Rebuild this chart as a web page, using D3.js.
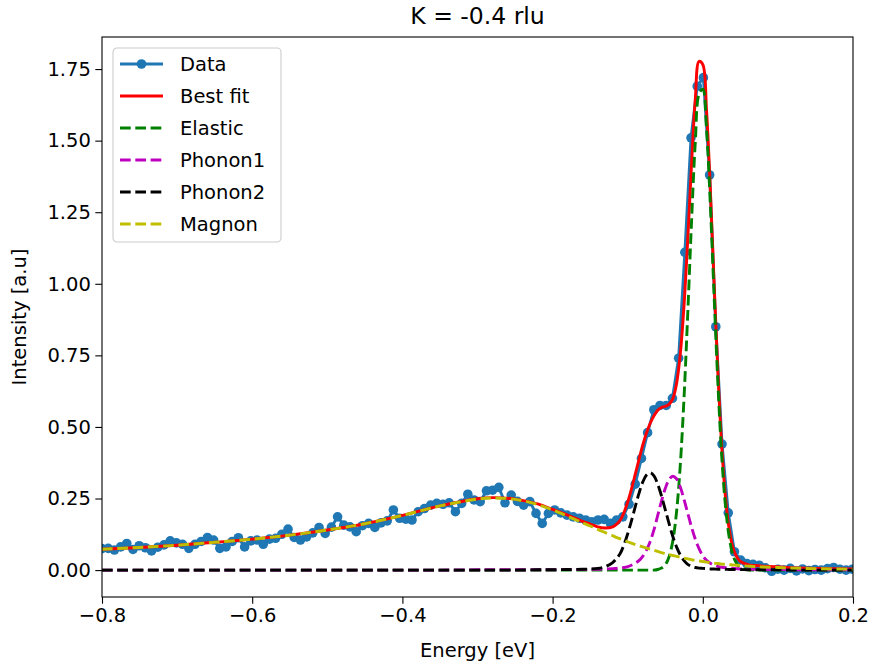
<!DOCTYPE html>
<html>
<head>
<meta charset="utf-8">
<script src="https://cdn.jsdelivr.net/npm/d3@7"></script>
<style>
  html, body { margin: 0; padding: 0; background: #fff; }
  svg text { font-family: "DejaVu Sans", sans-serif; fill: #000; }
</style>
</head>
<body>
<svg id="chart" width="870" height="666"></svg>
<script>
// Measured spectrum, K = -0.4 rlu
const energy = [
  -0.8000, -0.7917, -0.7835, -0.7752, -0.7670, -0.7587, -0.7505, -0.7422, -0.7340, -0.7257,
  -0.7174, -0.7092, -0.7009, -0.6927, -0.6844, -0.6762, -0.6679, -0.6596, -0.6514, -0.6431,
  -0.6349, -0.6266, -0.6184, -0.6101, -0.6019, -0.5936, -0.5853, -0.5771, -0.5688, -0.5606,
  -0.5523, -0.5441, -0.5358, -0.5276, -0.5193, -0.5110, -0.5028, -0.4945, -0.4863, -0.4780,
  -0.4698, -0.4615, -0.4532, -0.4450, -0.4367, -0.4285, -0.4202, -0.4120, -0.4037, -0.3955,
  -0.3872, -0.3789, -0.3707, -0.3624, -0.3542, -0.3459, -0.3377, -0.3294, -0.3211, -0.3129,
  -0.3046, -0.2964, -0.2881, -0.2799, -0.2716, -0.2634, -0.2551, -0.2468, -0.2386, -0.2303,
  -0.2221, -0.2138, -0.2056, -0.1973, -0.1891, -0.1808, -0.1725, -0.1643, -0.1560, -0.1478,
  -0.1395, -0.1313, -0.1230, -0.1147, -0.1065, -0.0982, -0.0900, -0.0817, -0.0735, -0.0652,
  -0.0570, -0.0487, -0.0404, -0.0322, -0.0239, -0.0157, -0.0074, 0.0008, 0.0091, 0.0173,
  0.0256, 0.0339, 0.0421, 0.0504, 0.0586, 0.0669, 0.0751, 0.0834, 0.0917, 0.0999,
  0.1082, 0.1164, 0.1247, 0.1329, 0.1412, 0.1494, 0.1577, 0.1660, 0.1742, 0.1825,
  0.1907, 0.1990
];
const intensity = [
  0.075, 0.076, 0.070, 0.081, 0.093, 0.072, 0.085, 0.078, 0.067, 0.080,
  0.088, 0.102, 0.095, 0.090, 0.076, 0.090, 0.100, 0.114, 0.105, 0.076,
  0.081, 0.100, 0.113, 0.081, 0.102, 0.105, 0.090, 0.108, 0.111, 0.125,
  0.143, 0.114, 0.105, 0.116, 0.130, 0.149, 0.128, 0.150, 0.186, 0.157,
  0.151, 0.134, 0.155, 0.163, 0.149, 0.165, 0.172, 0.210, 0.181, 0.178,
  0.175, 0.204, 0.215, 0.227, 0.233, 0.230, 0.235, 0.204, 0.233, 0.265,
  0.245, 0.239, 0.277, 0.279, 0.289, 0.235, 0.262, 0.240, 0.227, 0.239,
  0.198, 0.163, 0.198, 0.210, 0.200, 0.192, 0.186, 0.181, 0.175, 0.169,
  0.175, 0.177, 0.163, 0.175, 0.186, 0.230, 0.300, 0.390, 0.480, 0.560,
  0.575, 0.575, 0.600, 0.740, 1.110, 1.510, 1.690, 1.720, 1.380, 0.850,
  0.440, 0.200, 0.064, 0.035, 0.023, 0.020, 0.017, 0.008, -0.004, 0.003,
  0.000, 0.006, -0.003, 0.004, -0.002, 0.002, 0.000, 0.005, 0.009, 0.003,
  0.000, 0.003
];

// Fit model evaluated on an energy grid (denser around the quasi-elastic region)
const fitEnergy = [
  -0.80, -0.75, -0.70, -0.65, -0.60, -0.55, -0.50, -0.45, -0.40, -0.35,
  -0.30, -0.28, -0.25, -0.22, -0.20, -0.18, -0.16, -0.15, -0.14, -0.13,
  -0.12, -0.115, -0.11, -0.105, -0.10, -0.095, -0.09, -0.085, -0.08, -0.075,
  -0.07, -0.065, -0.06, -0.055, -0.05, -0.045, -0.04, -0.035, -0.03, -0.025,
  -0.02, -0.015, -0.01, -0.005, 0.0, 0.005, 0.01, 0.015, 0.02, 0.025,
  0.03, 0.035, 0.04, 0.045, 0.05, 0.06, 0.07, 0.08, 0.10, 0.12,
  0.15, 0.20
];
const magnon = [
  0.073, 0.079, 0.087, 0.097, 0.108, 0.122, 0.140, 0.162, 0.191, 0.224,
  0.248, 0.252, 0.247, 0.229, 0.210, 0.188, 0.165, 0.154, 0.142, 0.131,
  0.120, 0.114, 0.109, 0.104, 0.099, 0.094, 0.089, 0.085, 0.081, 0.077,
  0.073, 0.069, 0.065, 0.061, 0.058, 0.054, 0.051, 0.048, 0.045, 0.042,
  0.039, 0.036, 0.034, 0.032, 0.030, 0.028, 0.026, 0.024, 0.023, 0.021,
  0.020, 0.019, 0.018, 0.017, 0.016, 0.014, 0.012, 0.011, 0.009, 0.007,
  0.005, 0.003
];
const phonon2 = [
  0.000, 0.000, 0.000, 0.000, 0.000, 0.000, 0.000, 0.000, 0.000, 0.000,
  0.000, 0.000, 0.000, 0.001, 0.001, 0.002, 0.003, 0.004, 0.006, 0.012,
  0.026, 0.040, 0.058, 0.088, 0.127, 0.172, 0.221, 0.268, 0.307, 0.332,
  0.340, 0.329, 0.300, 0.259, 0.211, 0.163, 0.118, 0.081, 0.053, 0.033,
  0.020, 0.013, 0.009, 0.007, 0.006, 0.005, 0.004, 0.004, 0.003, 0.003,
  0.003, 0.002, 0.002, 0.002, 0.002, 0.001, 0.001, 0.001, 0.001, 0.000,
  0.000, 0.000
];
const phonon1 = [
  0.000, 0.000, 0.000, 0.000, 0.000, 0.000, 0.000, 0.000, 0.000, 0.000,
  0.001, 0.001, 0.001, 0.001, 0.001, 0.002, 0.002, 0.003, 0.003, 0.004,
  0.005, 0.006, 0.007, 0.009, 0.012, 0.017, 0.024, 0.033, 0.048, 0.070,
  0.100, 0.141, 0.191, 0.241, 0.285, 0.316, 0.328, 0.319, 0.290, 0.247,
  0.198, 0.150, 0.108, 0.075, 0.050, 0.034, 0.024, 0.017, 0.013, 0.010,
  0.008, 0.007, 0.006, 0.005, 0.004, 0.003, 0.003, 0.002, 0.002, 0.001,
  0.001, 0.001
];
const elastic = [
  0.000, 0.000, 0.000, 0.000, 0.000, 0.000, 0.000, 0.000, 0.000, 0.000,
  0.000, 0.000, 0.000, 0.000, 0.000, 0.000, 0.000, 0.000, 0.000, 0.000,
  0.000, 0.000, 0.000, 0.000, 0.000, 0.000, 0.000, 0.000, 0.000, 0.000,
  0.000, 0.000, 0.002, 0.007, 0.018, 0.046, 0.101, 0.202, 0.366, 0.602,
  0.899, 1.217, 1.494, 1.663, 1.680, 1.538, 1.278, 0.962, 0.658, 0.407,
  0.229, 0.117, 0.053, 0.023, 0.008, 0.001, 0.000, 0.000, 0.000, 0.000,
  0.000, 0.000
];
const bestFit = [
  0.073, 0.079, 0.087, 0.097, 0.108, 0.122, 0.140, 0.162, 0.191, 0.224,
  0.249, 0.253, 0.248, 0.231, 0.212, 0.192, 0.170, 0.161, 0.151, 0.147,
  0.151, 0.160, 0.174, 0.201, 0.238, 0.283, 0.334, 0.386, 0.436, 0.479,
  0.513, 0.539, 0.558, 0.568, 0.572, 0.579, 0.598, 0.650, 0.754, 0.924,
  1.156, 1.416, 1.645, 1.777, 1.766, 1.605, 1.332, 1.007, 0.697, 0.441,
  0.260, 0.145, 0.079, 0.047, 0.030, 0.019, 0.016, 0.014, 0.012, 0.008,
  0.006, 0.004
];

const xTicks = [-0.8, -0.6, -0.4, -0.2, 0.0, 0.2];
const yTicks = [0.00, 0.25, 0.50, 0.75, 1.00, 1.25, 1.50, 1.75];

const titleText = "K = -0.4 rlu";
const xLabel = "Energy [eV]";
const yLabel = "Intensity [a.u]";

const seriesNames = ["Data", "Best fit", "Elastic", "Phonon1", "Phonon2", "Magnon"];
const seriesColors = ["#1f77b4", "#ff0000", "#008000", "#bf00bf", "#000000", "#bfbf00"];

// ---- layout ----
const W = 870, H = 666;
const plot = { left: 102, right: 853, top: 37, bottom: 597 };
const fontPx = 19.5;
const lw = 2.9;
const dash = "10.7,4.6";

const svg = d3.select("#chart");

const x = d3.scaleLinear().domain([-0.8, 0.2]).range([plot.left, plot.right]);
const y = d3.scaleLinear().domain([-0.094, 1.862]).range([plot.bottom, plot.top]);

svg.append("defs").append("clipPath").attr("id", "plotClip")
  .append("rect")
  .attr("x", plot.left).attr("y", plot.top)
  .attr("width", plot.right - plot.left).attr("height", plot.bottom - plot.top);

const layer = svg.append("g").attr("clip-path", "url(#plotClip)");

// measured data: line plus round markers
const dataPts = energy.map((e, i) => [e, intensity[i]]);
const dataLine = d3.line().x(d => x(d[0])).y(d => y(d[1]));
layer.append("path").datum(dataPts)
  .attr("d", dataLine)
  .attr("fill", "none").attr("stroke", seriesColors[0]).attr("stroke-width", lw)
  .attr("stroke-linejoin", "round");
layer.append("g").selectAll("circle").data(dataPts).join("circle")
  .attr("cx", d => x(d[0])).attr("cy", d => y(d[1])).attr("r", 4.8)
  .attr("fill", seriesColors[0]);

// fitted curves
const fitLine = d3.line().x(d => x(d[0])).y(d => y(d[1])).curve(d3.curveCatmullRom.alpha(0.5));
const fitSeries = [
  { vals: bestFit, color: seriesColors[1], dashed: false },
  { vals: elastic, color: seriesColors[2], dashed: true },
  { vals: phonon1, color: seriesColors[3], dashed: true },
  { vals: phonon2, color: seriesColors[4], dashed: true },
  { vals: magnon, color: seriesColors[5], dashed: true }
];
fitSeries.forEach(s => {
  layer.append("path")
    .datum(fitEnergy.map((e, i) => [e, s.vals[i]]))
    .attr("d", fitLine)
    .attr("fill", "none")
    .attr("stroke", s.color)
    .attr("stroke-width", lw)
    .attr("stroke-dasharray", s.dashed ? dash : null)
    .attr("stroke-linejoin", "round");
});

// ---- axes ----
const fmtX = d => (d < 0 ? "\u2212" : "") + Math.abs(d).toFixed(1);
const xAxis = d3.axisBottom(x).tickValues(xTicks).tickFormat(fmtX).tickSize(6.7).tickPadding(4.5);
const yAxis = d3.axisLeft(y).tickValues(yTicks).tickFormat(d => d.toFixed(2)).tickSize(6.7).tickPadding(4.5);

const gx = svg.append("g").attr("transform", `translate(0,${plot.bottom})`).call(xAxis);
const gy = svg.append("g").attr("transform", `translate(${plot.left},0)`).call(yAxis);
[gx, gy].forEach(g => {
  g.select(".domain").remove();
  g.selectAll(".tick line").attr("stroke", "#000").attr("stroke-width", 1.1);
  g.selectAll(".tick text").attr("font-size", fontPx).attr("font-family", "DejaVu Sans").attr("fill", "#000");
});

// frame
svg.append("rect")
  .attr("x", plot.left).attr("y", plot.top)
  .attr("width", plot.right - plot.left).attr("height", plot.bottom - plot.top)
  .attr("fill", "none").attr("stroke", "#000").attr("stroke-width", 1.1);

// labels
svg.append("text").attr("x", (plot.left + plot.right) / 2).attr("y", 24)
  .attr("text-anchor", "middle").attr("font-size", 23.5).text(titleText);
svg.append("text").attr("x", (plot.left + plot.right) / 2).attr("y", 657)
  .attr("text-anchor", "middle").attr("font-size", fontPx).text(xLabel);
svg.append("text")
  .attr("transform", `translate(26,${(plot.top + plot.bottom) / 2}) rotate(-90)`)
  .attr("text-anchor", "middle").attr("font-size", fontPx).text(yLabel);

// ---- legend ----
const leg = svg.append("g").attr("transform", "translate(113,48)");
leg.append("rect").attr("x", 0).attr("y", 0).attr("width", 168).attr("height", 194)
  .attr("rx", 4).attr("fill", "#fff").attr("fill-opacity", 0.8)
  .attr("stroke", "#cccccc").attr("stroke-width", 1.1);
seriesNames.forEach((name, i) => {
  const cy = 16 + i * 32;
  const g = leg.append("g");
  g.append("line").attr("x1", 7).attr("x2", 50).attr("y1", cy).attr("y2", cy)
    .attr("stroke", seriesColors[i]).attr("stroke-width", lw)
    .attr("stroke-dasharray", i >= 2 ? dash : null);
  if (i === 0) {
    g.append("circle").attr("cx", 28.5).attr("cy", cy).attr("r", 4.8).attr("fill", seriesColors[0]);
  }
  g.append("text").attr("x", 67).attr("y", cy).attr("dy", "0.35em")
    .attr("font-size", fontPx).text(name);
});
</script>
</body>
</html>
